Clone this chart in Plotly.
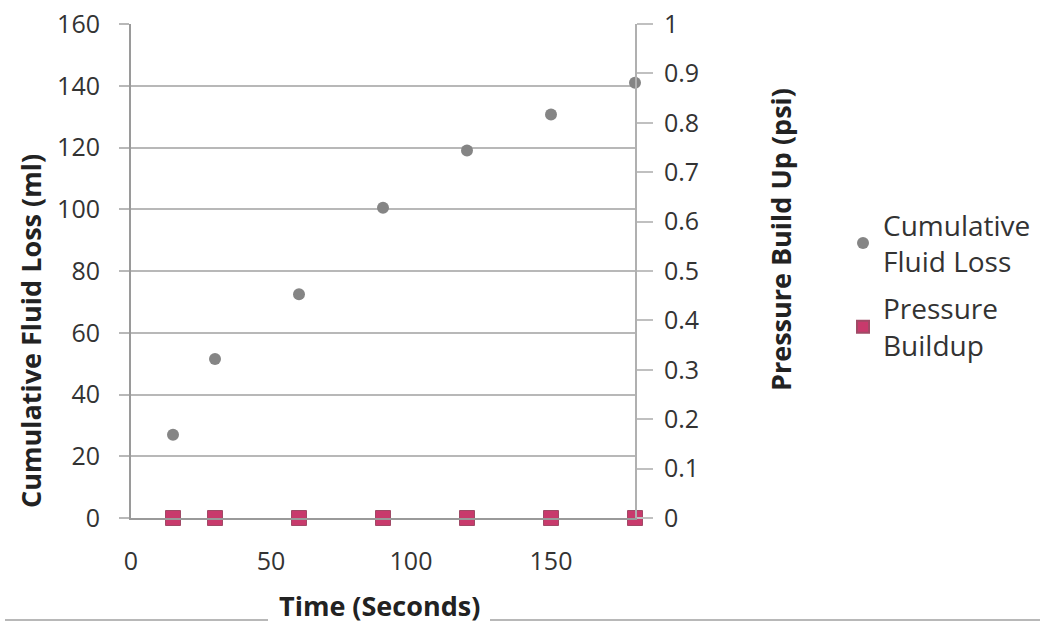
import plotly.graph_objects as go

time_s = [15, 30, 60, 90, 120, 150, 180]
fluid_loss = [27, 51.5, 72.5, 100.5, 119, 130.7, 141]
pressure = [0, 0, 0, 0, 0, 0, 0]

W, H = 1045, 627
L, R, T, B = 131, 410, 24, 109
pw, ph = W - L - R, H - T - B

def px(x):
    return (x - L) / pw

def py(y):
    return (H - B - y) / ph

FONT = "Open Sans"
TICK = dict(size=25, color="#333")
fig = go.Figure()
fig.add_trace(go.Scatter(
    x=time_s, y=fluid_loss, mode="markers", name="Cumulative<br>Fluid Loss",
    legendgroup="loss",
    marker=dict(symbol="circle", size=12, color="#858585"),
    yaxis="y", cliponaxis=False))
fig.add_trace(go.Scatter(
    x=time_s, y=pressure, mode="markers", name="Pressure<br>Buildup",
    legendgroup="pressure",
    marker=dict(symbol="square", size=15, color="#c83a6c",
                line=dict(color="#a04a66", width=1)),
    yaxis="y2", cliponaxis=False))

TITLE = dict(size=27, color="#222")
fig.update_layout(
    width=W, height=H,
    margin=dict(l=L, r=R, t=T, b=B, autoexpand=False),
    paper_bgcolor="white", plot_bgcolor="white",
    font=dict(family=FONT, size=25, color="#222"),
    showlegend=True,
    legend=dict(x=px(843), y=py(200), xanchor="left", yanchor="top",
                font=dict(size=28, color="#333"), tracegroupgap=8,
                itemsizing="constant"),
    xaxis=dict(range=[0, 180], dtick=50, tick0=0, showgrid=False, zeroline=False,
               showline=True, linecolor="#9a9a9a", linewidth=2, ticks="",
               ticklabelstandoff=20, tickfont=TICK),
    yaxis=dict(range=[0, 160], dtick=20, showgrid=True, gridcolor="#b8b8b8", gridwidth=2,
               zeroline=False, showline=True, linecolor="#9a9a9a", linewidth=2,
               ticks="outside", ticklen=10, tickcolor="#b8b8b8", tickwidth=2,
               ticklabelstandoff=14, tickfont=TICK),
    yaxis2=dict(range=[0, 1], dtick=0.1, overlaying="y", side="right", showgrid=False,
                zeroline=False, showline=True, linecolor="#b0b0b0", linewidth=2,
                ticks="outside", ticklen=16, tickcolor="#c0c0c0", tickwidth=2,
                ticklabelstandoff=6, tickfont=TICK),
    annotations=[
        dict(text="<b>Cumulative Fluid Loss (ml)</b>", x=px(30), y=py(331), xref="paper", yref="paper",
             xanchor="center", yanchor="middle",
             textangle=-90, showarrow=False, font=TITLE),
        dict(text="<b>Pressure Build Up (psi)</b>", x=px(780), y=py(240), xref="paper", yref="paper",
             xanchor="center", yanchor="middle",
             textangle=-90, showarrow=False, font=TITLE),
        dict(text="<b>Time (Seconds)</b>", x=px(379), y=py(605), xref="paper", yref="paper",
             xanchor="center", yanchor="middle",
             showarrow=False, font=TITLE),
    ],
    shapes=[
        dict(type="line", xref="paper", yref="paper", x0=px(5), x1=px(268), y0=py(620), y1=py(620),
             line=dict(color="#b8b8b8", width=2)),
        dict(type="line", xref="paper", yref="paper", x0=px(490), x1=px(1040), y0=py(620), y1=py(620),
             line=dict(color="#b8b8b8", width=2)),
    ],
)

fig.write_html("out.html")
